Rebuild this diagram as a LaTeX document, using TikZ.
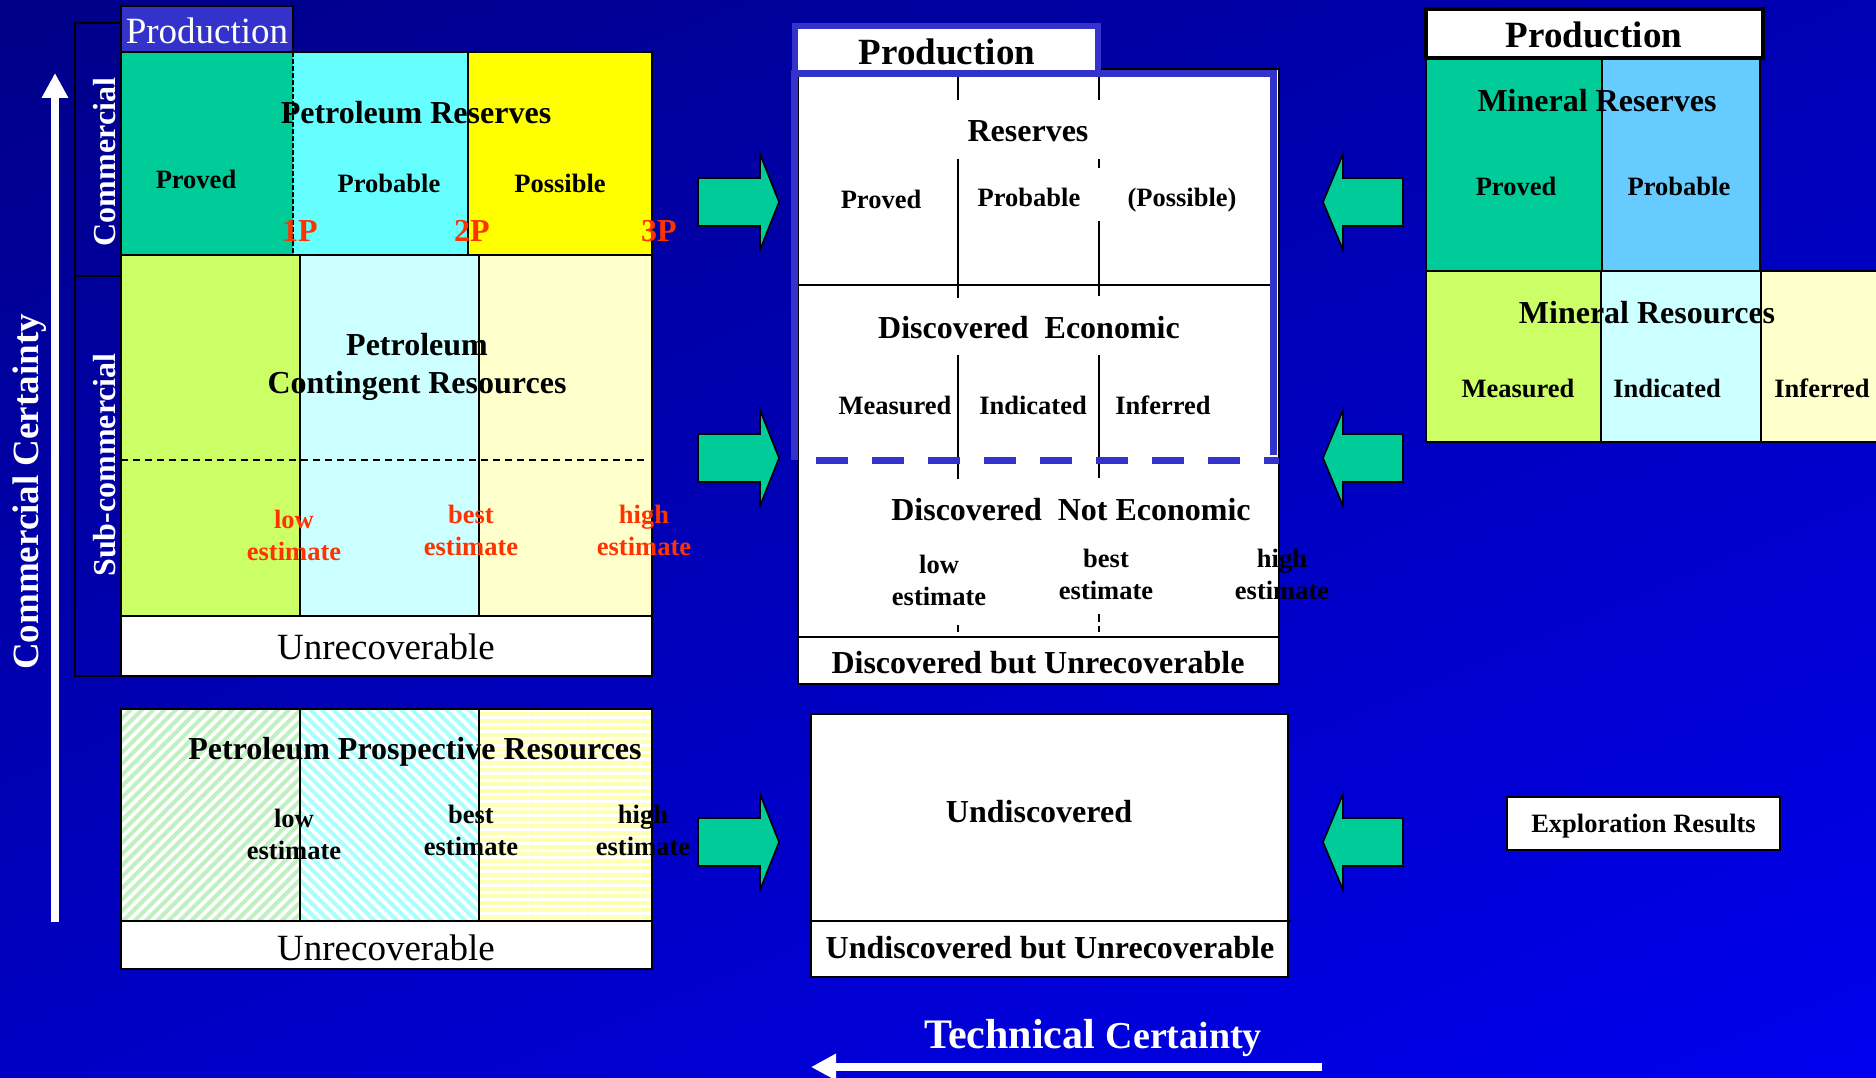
\documentclass[tikz,border=0pt]{standalone}
\usepackage{fontspec}
\setmainfont{Liberation Serif}
\usepackage{xcolor}
\usetikzlibrary{arrows.meta,calc,positioning,patterns.meta,shadings}
\definecolor{bgdark}{HTML}{000088}
\definecolor{bgtr}{HTML}{0000B4}
\definecolor{bgbl}{HTML}{0000C4}
\definecolor{bglight}{HTML}{0000EE}
\definecolor{tabblue}{HTML}{3333CC}
\definecolor{provedgreen}{HTML}{00CC99}
\definecolor{probcyan}{HTML}{66FFFF}
\definecolor{probblue}{HTML}{66CCFF}
\definecolor{possyellow}{HTML}{FFFF00}
\definecolor{lowgreen}{HTML}{CCFF66}
\definecolor{bestcyan}{HTML}{CCFFFF}
\definecolor{highcream}{HTML}{FFFFCC}
\definecolor{estred}{HTML}{FF3300}
\definecolor{hatchgreen}{HTML}{BFF0BF}
\definecolor{hatchcyan}{HTML}{A8FFFF}
\definecolor{hatchyellow}{HTML}{FFFFB0}
\tikzstyle{cellline} = [draw=black, line width=1.6pt]
\tikzstyle{heavyline} = [draw=black, line width=2.6pt]
\tikzstyle{bigtext} = [font=\bfseries\fontsize{32}{36}\selectfont, inner sep=0pt, align=center]
\tikzstyle{smalltext} = [font=\bfseries\fontsize{26.5}{32}\selectfont, inner sep=0pt, align=center]
\tikzstyle{regtext} = [font=\fontsize{37}{40}\selectfont, inner sep=0pt]
\tikzstyle{prodtext} = [font=\bfseries\fontsize{37}{40}\selectfont, inner sep=0pt]
\tikzstyle{redtext} = [smalltext, text=estred]
\tikzstyle{greenarrow} = [fill=provedgreen, draw=black, line width=1.6pt, line join=miter]
\tikzstyle{whitearrow} = [draw=white, line width=8pt, -{Triangle[length=25pt,width=25pt]}]

\begin{document}
\begin{tikzpicture}[x=1pt,y=-1pt]
\useasboundingbox (0,0) rectangle (1876,1078);
\shade[upper left=bgdark, upper right=bgtr, lower left=bgbl, lower right=bglight] (0,0) rectangle (1876,1078);

% petroleum classification
\draw[heavyline] (75,23) rectangle (121,676);
\draw[heavyline] (75,276) -- (121,276);
\draw[cellline, fill=tabblue] (121,6) rectangle (293,52);
\fill[provedgreen] (121,52) rectangle (293,255);
\fill[probcyan] (293,52) rectangle (468,255);
\fill[possyellow] (468,52) rectangle (652,255);
\draw[cellline] (121,52) rectangle (652,255);
\draw[cellline] (468,52) -- (468,255);
\draw[cellline, dash pattern=on 5pt off 2pt] (293,52) -- (293,255);
\fill[lowgreen] (121,255) rectangle (300,616);
\fill[bestcyan] (300,255) rectangle (479,616);
\fill[highcream] (479,255) rectangle (652,616);
\draw[cellline] (121,255) rectangle (652,616);
\draw[cellline] (300,255) -- (300,616) (479,255) -- (479,616);
\draw[line width=1.4pt, dash pattern=on 7pt off 5pt] (121,460) -- (647,460);
\draw[heavyline, fill=white] (121,616) rectangle (652,676);

\fill[white] (121,709) rectangle (652,921);
\fill[pattern={Lines[angle=45,distance=8pt,line width=4pt]}, pattern color=hatchgreen] (121,709) rectangle (300,921);
\fill[pattern={Lines[angle=-45,distance=8pt,line width=4pt]}, pattern color=hatchcyan] (300,709) rectangle (479,921);
\fill[pattern={Lines[angle=0,distance=7pt,line width=3.5pt]}, pattern color=hatchyellow] (479,709) rectangle (652,921);
\draw[heavyline] (121,709) rectangle (652,921);
\draw[cellline] (300,709) -- (300,921) (479,709) -- (479,921);
\draw[heavyline, fill=white] (121,921) rectangle (652,969);

\node[regtext, text=white] (prodLeft) at (207,31) {Production};
\node[bigtext] (petReserves) at (416,113) {Petroleum Reserves};
\node[smalltext] (petProved) at (196,179) {Proved};
\node[smalltext] (petProbable) at (389,183) {Probable};
\node[smalltext] (petPossible) at (560,183) {Possible};
\node[bigtext, text=estred] (oneP) at (300,231) {1P};
\node[bigtext, text=estred] (twoP) at (472,231) {2P};
\node[bigtext, text=estred] (threeP) at (659,231) {3P};
\node[bigtext, font=\bfseries\fontsize{32}{38}\selectfont] (petContingent) at (417,367) {Petroleum\\Contingent Resources};
\node[redtext] (contLow) at (294,535) {low\\estimate};
\node[redtext] (contBest) at (471,530) {best\\estimate};
\node[redtext] (contHigh) at (644,530) {high\\estimate};
\node[regtext] (unrecA) at (386,647) {Unrecoverable};
\node[bigtext, text=white, rotate=90] (commercial) at (105,162) {Commercial};
\node[bigtext, text=white, rotate=90] (subcommercial) at (105,465) {Sub-commercial};
\node[font=\bfseries\fontsize{37}{40}\selectfont, inner sep=0pt, text=white, rotate=90] (commCert) at (30,492) {Commercial Certainty};
\node[bigtext] (petProspective) at (415,752) {Petroleum Prospective Resources};
\node[smalltext] (prosLow) at (294,834) {low\\estimate};
\node[smalltext] (prosBest) at (471,830) {best\\estimate};
\node[smalltext] (prosHigh) at (643,830) {high\\estimate};
\node[regtext] (unrecB) at (386,948) {Unrecoverable};

\coordinate (commBase) at (55,922);
\coordinate (commTip) at (55,73);
\draw[whitearrow] (commBase) -- (commTip);

% block arrows
\foreach \yy in {202,458,842} {
  \draw[greenarrow] (698,\yy-24) -- (760,\yy-24) -- (760,\yy-48) -- (779,\yy)
    -- (760,\yy+48) -- (760,\yy+24) -- (698,\yy+24) -- cycle;
  \draw[greenarrow] (1403,\yy-24) -- (1343,\yy-24) -- (1343,\yy-48) -- (1323,\yy)
    -- (1343,\yy+48) -- (1343,\yy+24) -- (1403,\yy+24) -- cycle;
}

% middle classification
\draw[cellline, fill=white] (798,69) rectangle (1279,684);
\draw[cellline] (798,637) -- (1279,637);
\draw[cellline] (798,285) -- (1272,285);
\draw[cellline] (958,77) -- (958,100) (958,159) -- (958,298) (958,355) -- (958,479) (958,625) -- (958,632);
\draw[cellline] (1099,77) -- (1099,100) (1099,159) -- (1099,168) (1099,221) -- (1099,296)
  (1099,355) -- (1099,478) (1099,614) -- (1099,622) (1099,626) -- (1099,632);
\draw[draw=tabblue, line width=6.5pt, fill=white] (795,26) rectangle (1098,74);
\draw[draw=tabblue, line width=7pt, line join=miter] (794.5,460) -- (794.5,74) -- (1273.5,74) -- (1273.5,455);
\draw[draw=tabblue, line width=7pt, dash pattern=on 32pt off 24pt] (816,460) -- (1279,460);
\draw[cellline, fill=white] (811,714) rectangle (1288,977);
\draw[cellline] (811,921) -- (1291,921);

\node[prodtext] (prodMid) at (947,52) {Production};
\node[bigtext] (reserves) at (1028,131) {Reserves};
\node[smalltext] (midProved) at (881,199) {Proved};
\node[smalltext] (midProbable) at (1029,197) {Probable};
\node[smalltext] (midPossible) at (1182,200) {(Possible)};
\node[bigtext] (discEcon) at (1029,328) {Discovered\ \ Economic};
\node[smalltext] (midMeasured) at (895,405) {Measured};
\node[smalltext] (midIndicated) at (1033,405) {Indicated};
\node[smalltext] (midInferred) at (1163,405) {Inferred};
\node[bigtext] (discNotEcon) at (1071,510) {Discovered\ \ Not Economic};
\node[smalltext] (midLow) at (939,580) {low\\estimate};
\node[smalltext] (midBest) at (1106,574) {best\\estimate};
\node[smalltext] (midHigh) at (1282,574) {high\\estimate};
\node[bigtext] (discUnrec) at (1038,663) {Discovered but Unrecoverable};
\node[bigtext] (undisc) at (1039,812) {Undiscovered};
\node[bigtext] (undiscUnrec) at (1050,948) {Undiscovered but Unrecoverable};
\node[font=\bfseries, inner sep=0pt, text=white] (techCert) at (1093,1038)
  {{\fontsize{42}{44}\selectfont Technical\ }{\fontsize{38}{44}\selectfont Certainty}};

\coordinate (techBase) at (1322,1067);
\coordinate (techTip) at (811,1067);
\draw[whitearrow] (techBase) -- (techTip);

% mineral classification
\fill[provedgreen] (1426,58) rectangle (1602,271);
\fill[probblue] (1602,58) rectangle (1760,271);
\fill[lowgreen] (1426,271) rectangle (1601,442);
\fill[bestcyan] (1601,271) rectangle (1761,442);
\fill[highcream] (1761,271) rectangle (1876,442);
\draw[cellline] (1426,58) rectangle (1760,271);
\draw[cellline] (1602,58) -- (1602,271);
\draw[cellline] (1426,271) -- (1876,271);
\draw[cellline] (1426,271) -- (1426,442) (1601,271) -- (1601,442) (1761,271) -- (1761,442);
\draw[heavyline] (1426,442) -- (1876,442);
\draw[draw=black, line width=4pt, fill=white] (1426,9) rectangle (1763,58);

\node[prodtext] (prodRight) at (1594,35) {Production};
\node[bigtext] (minReserves) at (1597,101) {Mineral Reserves};
\node[smalltext] (minProved) at (1516,186) {Proved};
\node[smalltext] (minProbable) at (1679,186) {Probable};
\node[bigtext] (minResources) at (1647,313) {Mineral Resources};
\node[smalltext] (minMeasured) at (1518,388) {Measured};
\node[smalltext] (minIndicated) at (1667,388) {Indicated};
\node[smalltext] (minInferred) at (1822,388) {Inferred};
\node[smalltext, draw=black, line width=2pt, fill=white, text depth=0pt, minimum width=273pt, minimum height=53pt] (exploration) at (1643.5,823.5) {Exploration Results};
\end{tikzpicture}
\end{document}
